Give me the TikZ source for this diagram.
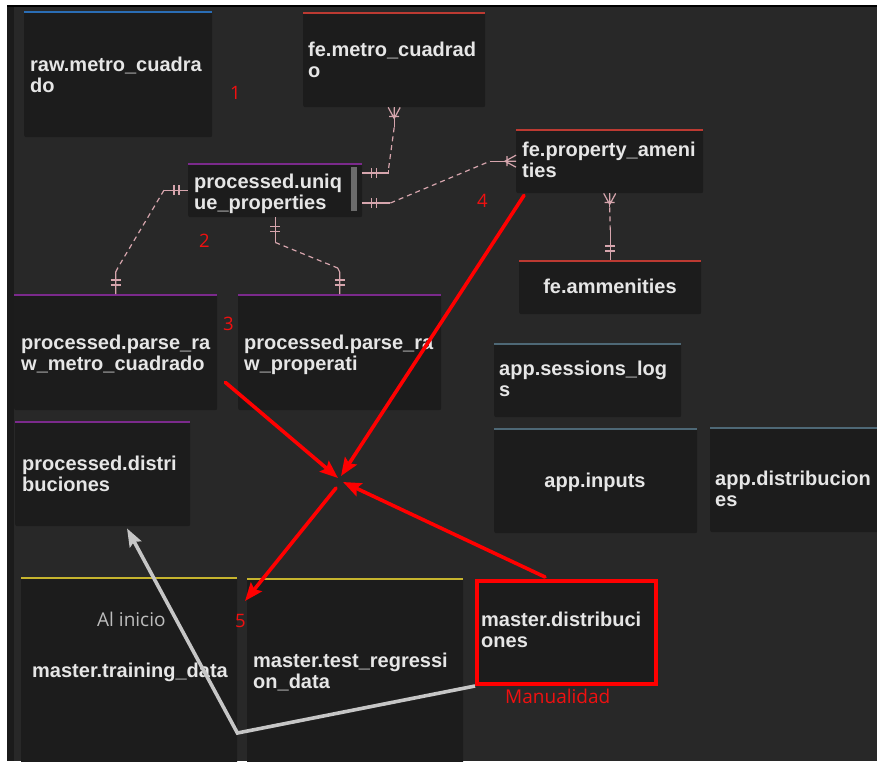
\documentclass[tikz,border=0pt]{standalone}
\usepackage{fontspec}
\setmainfont{Liberation Sans}
\newfontfamily\notefont{Open Sans}
\usetikzlibrary{arrows.meta,calc}

\definecolor{canvas}{HTML}{282828}
\definecolor{panel}{HTML}{1C1C1C}
\definecolor{gutter}{HTML}{1B1B1B}
\definecolor{txt}{HTML}{E6E6E6}
\definecolor{rawblue}{HTML}{2A6DB5}
\definecolor{fered}{HTML}{BC3A32}
\definecolor{procpurple}{HTML}{7B2A8C}
\definecolor{appslate}{HTML}{4E6876}
\definecolor{masteryellow}{HTML}{C6B42E}
\definecolor{relpink}{HTML}{D6A5AD}
\definecolor{hot}{HTML}{FF0000}
\definecolor{notered}{HTML}{F01010}
\definecolor{pathgrey}{HTML}{C6C6C6}
\definecolor{hintgrey}{HTML}{BDBDBD}
\definecolor{scroll}{HTML}{6B6B6B}

\begin{document}
\begin{tikzpicture}[x=1pt,y=-1pt,
  tbl/.style={fill=panel, rounded corners=2pt, inner sep=0pt, anchor=north west},
  stripe/.style={line width=2.2pt},
  % multi-line titles are placed at the baseline of their last line
  ttl/.style={text=txt, font=\bfseries\fontsize{20}{21.5}\selectfont,
              inner sep=0pt, align=left, anchor=base west},
  note/.style={font=\notefont\fontsize{18.5}{20}\selectfont, inner sep=0pt, anchor=base west},
  rel/.style={draw=relpink, line width=1.2pt},
  reldash/.style={rel, dash pattern=on 5pt off 4pt},
  flow/.style={draw=hot, line width=3.6pt, line cap=round,
               -{Stealth[length=18pt,width=14pt,inset=3pt]}},
  back/.style={draw=pathgrey, line width=3.6pt, line join=miter,
               -{Stealth[length=18pt,width=13pt,inset=3pt]}},
  pics/onlyone/.style={code={\draw[rel] (9,-5) -- (9,5) (14,-5) -- (14,5);}},
  pics/oneormany/.style={code={\draw[rel] (0,-6) -- (11,0) -- (0,6) (0,0) -- (11,0) (9,-5) -- (9,5);}}
]
\useasboundingbox (0,0) rectangle (877,761);

% page frame
\fill[white] (0,0) rectangle (877,761);
\fill[canvas] (7,5) rectangle (877,761);
\fill[black] (7,5) rectangle (877,7);
\fill[gutter] (7,7) rectangle (14,761);

% tables
\node[tbl, minimum width=188pt, minimum height=126pt] (raw)   at (24,11)  {};
\node[tbl, minimum width=182pt, minimum height=95pt]  (fmc)   at (303,12) {};
\node[tbl, minimum width=174pt, minimum height=54pt]  (uniq)  at (188,163) {};
\node[tbl, minimum width=187pt, minimum height=64pt]  (fpa)   at (516,129) {};
\node[tbl, minimum width=182pt, minimum height=54pt]  (fam)   at (519,260) {};
\node[tbl, minimum width=203pt, minimum height=116pt] (prm)   at (14,294) {};
\node[tbl, minimum width=203pt, minimum height=116pt] (prp)   at (238,294) {};
\node[tbl, minimum width=175pt, minimum height=105pt] (pdist) at (15,421) {};
\node[tbl, minimum width=187pt, minimum height=74pt]  (sess)  at (494,343) {};
\node[tbl, minimum width=203pt, minimum height=105pt] (inp)   at (494,428) {};
\node[tbl, minimum width=172pt, minimum height=105pt] (adist) at (710,427) {};
\node[tbl, minimum width=216pt, minimum height=190pt] (mtrain) at (21,577) {};
\node[tbl, minimum width=216pt, minimum height=190pt] (mtest)  at (247,578) {};
\node[tbl, draw=hot, line width=4pt, rounded corners=0pt,
      minimum width=179pt, minimum height=103pt] (mdist) at (475,579) {};

% coloured header lines
\foreach \n/\c in {raw/rawblue, fmc/fered, fpa/fered, fam/fered,
                   uniq/procpurple, prm/procpurple, prp/procpurple, pdist/procpurple,
                   sess/appslate, inp/appslate, adist/appslate,
                   mtrain/masteryellow, mtest/masteryellow}
  \draw[stripe, \c] ([yshift=-1pt]\n.north west) -- ([yshift=-1pt]\n.north east);

% scroll bar of processed.unique_properties
\fill[scroll] ($(uniq.north east)+(-11,4)$) rectangle ++(6,44);

% table titles
\node[ttl] (rawt)   at (30,92.5)   {raw.metro\_cuadra\\do};
\node[ttl] (fmct)   at (308,77.5)  {fe.metro\_cuadrad\\o};
\node[ttl] (uniqt)  at (194,209.5) {processed.uniq\\ue\_properties};
\node[ttl] (fpat)   at (522,177.5) {fe.property\_ameni\\ties};
\node[ttl, anchor=base] (famt) at (610,293) {fe.ammenities};
\node[ttl] (prmt)   at (21,370.5)  {processed.parse\_ra\\w\_metro\_cuadrado};
\node[ttl] (prpt)   at (244,370.5) {processed.parse\_ra\\w\_properati};
\node[ttl] (pdistt) at (22,491.5)  {processed.distri\\buciones};
\node[ttl] (sesst)  at (499,396.5) {app.sessions\_log\\s};
\node[ttl, anchor=base] (inpt) at (595,487) {app.inputs};
\node[ttl] (adistt) at (715,506.5) {app.distribucion\\es};
\node[ttl] (mtraint) at (32,677) {master.training\_data};
\node[ttl] (mtestt) at (253,688.5) {master.test\_regressi\\on\_data};
\node[ttl] (mdistt) at (481,647.5) {master.distribuci\\ones};

% relationships
\coordinate (ua) at ($(uniq.north east)+(0,10)$);
\coordinate (ub) at ($(uniq.north east)+(0,40)$);

\draw[rel] (fmc.south) -- ++(0,20) coordinate (a1);
\draw[reldash] (a1) -- ($(ua)+(26,-3)$) coordinate (a2);
\draw[rel] (a2) |- (ua);
\pic[rotate=-90] at (fmc.south) {oneormany};
\pic at (ua) {onlyone};

\draw[rel] (ub) -- ++(28,0) coordinate (b1);
\draw[reldash] (b1) -- ($(fpa.west)+(-26,0)$) coordinate (b2);
\draw[rel] (b2) -- (fpa.west);
\pic at (ub) {onlyone};
\pic[rotate=180] at (fpa.west) {oneormany};

\draw[rel] (fpa.south) -- ++(0,14) coordinate (c1);
\draw[reldash] (c1) -- ($(fam.north)+(0,-30)$) coordinate (c2);
\draw[rel] (c2) -- (fam.north);
\pic[rotate=-90] at (fpa.south) {oneormany};
\pic[rotate=90] at (fam.north) {onlyone};

\draw[rel] (uniq.west) -- ++(-24,0) coordinate (d1);
\draw[reldash] (d1) -- ($(prm.north)+(2,-26)$) coordinate (d2);
\draw[rel] (d2) -- ($(prm.north)+(0,-22)$) -- (prm.north);
\pic[rotate=180] at (uniq.west) {onlyone};
\pic[rotate=90] at (prm.north) {onlyone};

\draw[rel] (uniq.south) -- ++(0,25) coordinate (e1);
\draw[reldash] (e1) -- ($(prp.north)+(-2,-26)$) coordinate (e2);
\draw[rel] (e2) -- ($(prp.north)+(0,-22)$) -- (prp.north);
\pic[rotate=-90] at (uniq.south) {onlyone};
\pic[rotate=90] at (prp.north) {onlyone};

% flow arrows
\coordinate (hubA) at (338,478);
\coordinate (hubB) at (341,476);
\coordinate (hubC) at (343,482);
\coordinate (hubD) at (336,488);
\draw[flow] ($(prm.south east)+(8,-28)$) -- (hubA);
\draw[flow] ($(fpa.south west)+(8,2)$) -- (hubB);
\draw[flow] ($(mdist.north west)+(70,-2)$) -- (hubC);
\draw[flow] (hubD) -- ($(mtest.north west)+(-2,23)$);

\coordinate (bend) at ($(mtrain.north east)+(0,156)$);
\draw[back] (mdist.south west) -- (bend) -- ($(pdist.south west)+(112,2)$);

% notes
\node[note, text=notered] (n1) at (230,99)  {1};
\node[note, text=notered] (n2) at (199,247) {2};
\node[note, text=notered] (n3) at (223,330) {3};
\node[note, text=notered] (n4) at (477,207) {4};
\node[note, text=notered] (n5) at (235,627) {5};
\node[note, text=hintgrey, font=\notefont\fontsize{19}{20}\selectfont] (hint) at (97,626) {Al inicio};
\node[note, text=notered, font=\notefont\fontsize{19}{20}\selectfont] (manual) at (505,703) {Manualidad};
\end{tikzpicture}
\end{document}
